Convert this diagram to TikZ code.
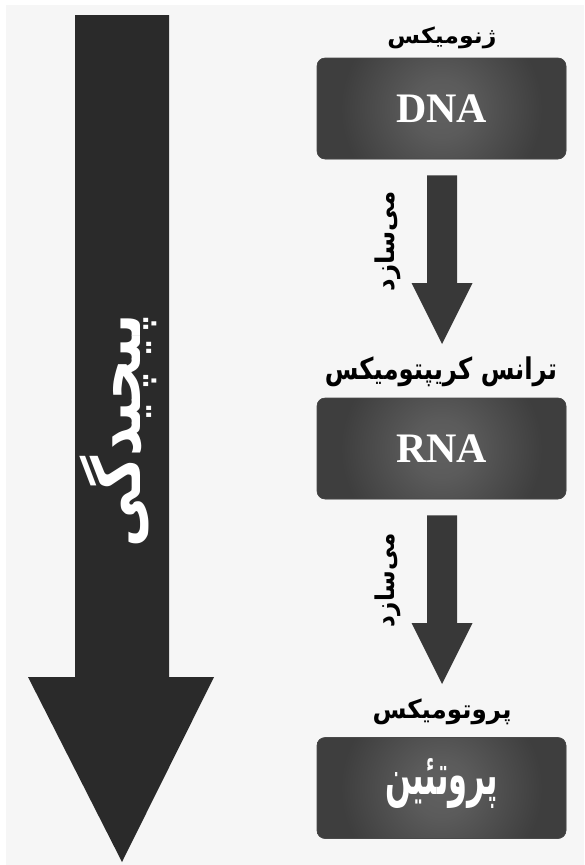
\documentclass[tikz,border=0pt]{standalone}
\usepackage{fontspec}
\usetikzlibrary{calc}
\TeXXeTstate=1
\newfontfamily\fa[Script=Arabic]{DejaVu Sans}
\newfontfamily\serifb{Liberation Serif}
\definecolor{bg}{HTML}{F6F6F6}
\definecolor{bigarrow}{HTML}{2A2A2A}
\definecolor{smallarrow}{HTML}{383838}
\definecolor{boxfill}{HTML}{3E3E3E}
\definecolor{boxedge}{HTML}{4A4A4A}
\definecolor{glow}{HTML}{606060}
\pgfdeclareradialshading{boxglow}{\pgfpoint{0bp}{0bp}}{color(0bp)=(glow); color(4bp)=(glow!85!boxfill); color(14bp)=(boxfill); color(50bp)=(boxfill)}
\tikzset{
  box/.style={draw=boxedge, line width=0.6pt, fill=boxfill, rounded corners=8pt,
    minimum width=249pt, minimum height=101pt, inner sep=0pt, text=white,
    path picture={\shade[shading=boxglow]
      (path picture bounding box.center) circle (180pt);}},
  title/.style={inner sep=0pt, text=black},
  vlabel/.style={inner sep=0pt, rotate=90, text=black},
}
\begin{document}
\begin{tikzpicture}[x=1pt,y=-1pt]
\useasboundingbox (0,0) rectangle (584,865);
\fill[white] (0,0) rectangle (584,865);
\fill[bg] (6,5) rectangle (584,865);

% big complexity arrow
\coordinate (bigtop) at (122,15);
\coordinate (bigtip) at (122,862);
\fill[bigarrow] ($(bigtop)+(-47,0)$) -- ($(bigtop)+(47,0)$) -- ($(bigtip)+(47,-185)$)
  -- ($(bigtip)+(92,-185)$) -- (bigtip) -- ($(bigtip)+(-94,-185)$) -- ($(bigtip)+(-47,-185)$) -- cycle;
\node[inner sep=0pt, rotate=90, text=white] (complex) at (118,431)
  {\resizebox*{233pt}{77pt}{\fa\bfseries\beginR پیچیدگی\endR}};

% boxes
\node[box] (dna) at (441.5,108.5) {\fontsize{42}{42}\selectfont\serifb\bfseries DNA};
\node[box] (rna) at (441.5,448.5) {\fontsize{42}{42}\selectfont\serifb\bfseries RNA};
\node[box] (prot) at (441.5,788) {};
\node[inner sep=0pt, text=white] (ptext) at (441.5,783) {\resizebox*{113pt}{50pt}{\fa\bfseries\beginR پروتئین\endR}};

% titles
\node[title] (tgen) at (442,38) {\resizebox*{109pt}{22pt}{\fa\bfseries\beginR ژنومیکس\endR}};
\node[title] (ttr) at (441,372) {\resizebox*{232pt}{30pt}{\fa\bfseries\beginR ترانس کریپتومیکس\endR}};
\node[title] (tpr) at (442,712) {\resizebox*{139pt}{26pt}{\fa\bfseries\beginR پروتومیکس\endR}};

% small arrows
\coordinate (a1s) at ($(dna.south)+(0.5,16)$);
\coordinate (a1e) at (442,344);
\fill[smallarrow] ($(a1s)+(-15,0)$) -- ($(a1s)+(15,0)$) -- ($(a1e)+(15,-61)$)
  -- ($(a1e)+(30.5,-61)$) -- (a1e) -- ($(a1e)+(-30.5,-61)$) -- ($(a1e)+(-15,-61)$) -- cycle;
\coordinate (a2s) at ($(rna.south)+(0.5,16)$);
\coordinate (a2e) at (442,684);
\fill[smallarrow] ($(a2s)+(-15,0)$) -- ($(a2s)+(15,0)$) -- ($(a2e)+(15,-61)$)
  -- ($(a2e)+(30.5,-61)$) -- (a2e) -- ($(a2e)+(-30.5,-61)$) -- ($(a2e)+(-15,-61)$) -- cycle;

% labels
\node[vlabel] (l1) at (388,241) {\resizebox*{100pt}{26pt}{\fa\bfseries\beginR می^^^^200cسازد\endR}};
\node[vlabel] (l2) at (388,580) {\resizebox*{94pt}{26pt}{\fa\bfseries\beginR می^^^^200cسازد\endR}};
\end{tikzpicture}
\end{document}
